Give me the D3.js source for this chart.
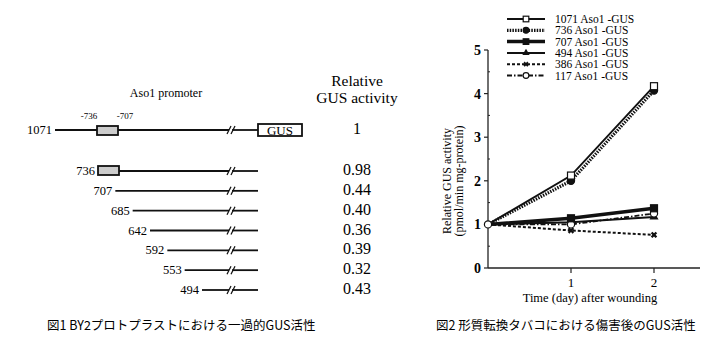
<!DOCTYPE html>
<html><head><meta charset="utf-8">
<script src="https://cdn.jsdelivr.net/npm/d3@7"></script>
<style>body{margin:0;background:#fff}svg{display:block}</style>
</head><body>
<script>
// ---- Figure 1 data ----
const constructs = ["1071","736","707","685","642","592","553","494"];
const relActivity = ["1","0.98","0.44","0.40","0.36","0.39","0.32","0.43"];
// ---- Figure 2 data ----
const days = [0, 1, 2];
const seriesNames = ["1071 Aso1 -GUS","736 Aso1 -GUS","707 Aso1 -GUS","494 Aso1 -GUS","386 Aso1 -GUS","117 Aso1 -GUS"];
const s1071 = [1, 2.12, 4.17];
const s736  = [1, 2.0, 4.07];
const s707  = [1, 1.14, 1.37];
const s494  = [1, 1.05, 1.17];
const s386  = [1, 0.86, 0.76];
const s117  = [1, 1.0, 1.25];
const yTicks = [0,1,2,3,4,5];
const xTicks = [1,2];
const caption1 = "図1 BY2プロトプラストにおける一過的GUS活性";
const caption2 = "図2 形質転換タバコにおける傷害後のGUS活性";

const W=718,H=351;
const svg=d3.select("body").append("svg").attr("width",W).attr("height",H);
const serif="'Liberation Serif','DejaVu Serif',serif";
const cjk="'Noto Sans CJK JP',sans-serif";

// ===== Figure 1 =====
const g1=svg.append("g");
g1.append("text").attr("x",166).attr("y",97).attr("text-anchor","middle")
  .attr("font-family",serif).attr("font-size",12).text("Aso1 promoter");
g1.append("text").attr("x",357).attr("y",86).attr("text-anchor","middle")
  .attr("font-family",serif).attr("font-size",15.5).text("Relative");
g1.append("text").attr("x",357).attr("y",103).attr("text-anchor","middle")
  .attr("font-family",serif).attr("font-size",15.5).text("GUS activity");

const rowY=d3.scaleLinear().domain([1,7]).range([171,290]);
const startX=d3.scaleLinear().domain([1,7]).range([98,202]);
const fullY=130, fullX=55, breakX=229, endX=258;

constructs.forEach((c,i)=>{
  const y = i===0? fullY : rowY(i);
  const x0 = i===0? fullX : startX(i);
  let lineStart = x0;
  if(i===1){
    g1.append("rect").attr("x",x0).attr("y",y-5).attr("width",21).attr("height",9)
      .attr("fill","#ccc").attr("stroke","#111").attr("stroke-width",1.8);
    lineStart = x0+21;
  }
  g1.append("line").attr("x1",lineStart).attr("y1",y).attr("x2",breakX).attr("y2",y)
    .attr("stroke","#111").attr("stroke-width",1.8);
  g1.append("line").attr("x1",breakX+3).attr("y1",y).attr("x2",endX).attr("y2",y)
    .attr("stroke","#111").attr("stroke-width",1.8);
  [0,4].forEach(dx=>g1.append("line").attr("x1",breakX-2+dx).attr("y1",y+4)
    .attr("x2",breakX+2+dx).attr("y2",y-4).attr("stroke","#111").attr("stroke-width",1.3));
  g1.append("text").attr("x",x0-3).attr("y",y+4).attr("text-anchor","end")
    .attr("font-family",serif).attr("font-size",12.5).text(c);
  g1.append("text").attr("x",357).attr("y",y+4).attr("text-anchor","middle")
    .attr("font-family",serif).attr("font-size",16).text(relActivity[i]);
});
g1.append("rect").attr("x",97).attr("y",fullY-4).attr("width",21).attr("height",9)
  .attr("fill","#ccc").attr("stroke","#111").attr("stroke-width",1.8);
g1.append("rect").attr("x",endX).attr("y",fullY-6).attr("width",44).attr("height",12)
  .attr("fill","#fff").attr("stroke","#111").attr("stroke-width",1.8);
g1.append("text").attr("x",280).attr("y",fullY+4.5).attr("text-anchor","middle")
  .attr("font-family",serif).attr("font-size",13).text("GUS");
g1.append("text").attr("x",89).attr("y",119).attr("text-anchor","middle")
  .attr("font-family",serif).attr("font-size",9).text("-736");
g1.append("text").attr("x",125).attr("y",119).attr("text-anchor","middle")
  .attr("font-family",serif).attr("font-size",9).text("-707");

// ===== Figure 2 =====
const x=d3.scaleLinear().domain([0,2]).range([488,654]);
const y=d3.scaleLinear().domain([0,5]).range([268,50]);
const g2=svg.append("g");
g2.append("line").attr("x1",488).attr("y1",y(0)).attr("x2",700).attr("y2",y(0)).attr("stroke","#222").attr("stroke-width",1.3);
g2.append("line").attr("x1",488).attr("y1",y(0)).attr("x2",488).attr("y2",y(5)).attr("stroke","#222").attr("stroke-width",1.3);
yTicks.forEach(t=>{
  g2.append("line").attr("x1",484).attr("x2",488).attr("y1",y(t)).attr("y2",y(t)).attr("stroke","#222").attr("stroke-width",1.2);
  g2.append("text").attr("x",481).attr("y",y(t)+5).attr("text-anchor","end")
    .attr("font-family",serif).attr("font-weight","bold").attr("font-size",14).text(t);
  if(t<5) g2.append("line").attr("x1",488).attr("x2",490).attr("y1",y(t+0.5)).attr("y2",y(t+0.5)).attr("stroke","#222");
});
xTicks.forEach(t=>{
  g2.append("line").attr("x1",x(t)).attr("x2",x(t)).attr("y1",y(0)).attr("y2",y(0)+5).attr("stroke","#222").attr("stroke-width",1.2);
  g2.append("text").attr("x",x(t)).attr("y",y(0)+19).attr("text-anchor","middle")
    .attr("font-family",serif).attr("font-size",13).text(t);
});
g2.append("text").attr("x",590).attr("y",302).attr("text-anchor","middle")
  .attr("font-family",serif).attr("font-size",12.5).text("Time (day)  after wounding");
g2.append("text").attr("transform","translate(451,181) rotate(-90)").attr("text-anchor","middle")
  .attr("font-family",serif).attr("font-size",12).text("Relative GUS activity");
g2.append("text").attr("transform","translate(463,181) rotate(-90)").attr("text-anchor","middle")
  .attr("font-family",serif).attr("font-size",12).text("(pmol/min mg-protein)");

const styles=[
  {data:s1071,w:2,dash:null,mk:"sq",fill:"#fff"},
  {data:s736,w:3.2,dash:"1.5,1.2",mk:"circle",fill:"#111"},
  {data:s707,w:3.5,dash:null,mk:"sq",fill:"#111"},
  {data:s494,w:2,dash:null,mk:"tri",fill:"#111"},
  {data:s386,w:2,dash:"3,2",mk:"x",fill:"#111"},
  {data:s117,w:1.8,dash:"5,2,1.5,2",mk:"circle",fill:"#fff"}
];
const line=d3.line().x((d,i)=>x(days[i])).y(d=>y(d));
function marker(g,cx,cy,s,k){
  k=k||1;
  if(s.mk==="sq") g.append("rect").attr("x",cx-3.5*k).attr("y",cy-3.5*k).attr("width",7*k).attr("height",7*k)
      .attr("fill",s.fill).attr("stroke","#111").attr("stroke-width",1.2);
  else if(s.mk==="circle") g.append("circle").attr("cx",cx).attr("cy",cy).attr("r",3.6*k)
      .attr("fill",s.fill).attr("stroke","#111").attr("stroke-width",1.2);
  else if(s.mk==="tri") g.append("path").attr("d",d3.symbol(d3.symbolTriangle,36*k*k)()).attr("transform",`translate(${cx},${cy})`).attr("fill","#111");
  else g.append("path").attr("d",d3.symbol(d3.symbolCross,26*k*k)()).attr("transform",`translate(${cx},${cy}) rotate(45)`).attr("fill","#111");
}
[4,3,5,2,1,0].forEach(k=>{
  const s=styles[k];
  g2.append("path").attr("d",line(s.data)).attr("fill","none").attr("stroke","#111")
    .attr("stroke-width",s.w).attr("stroke-dasharray",s.dash);
});
[4,3,5,2,1,0].forEach(k=>{
  const s=styles[k];
  s.data.forEach((v,i)=>{ if(i>0) marker(g2,x(days[i]),y(v),s); });
});
marker(g2,x(0),y(1),styles[5]);
const leg=g2.append("g");
seriesNames.forEach((n,i)=>{
  const ly=19+i*11.3, s=styles[i];
  leg.append("line").attr("x1",507).attr("x2",545).attr("y1",ly).attr("y2",ly).attr("stroke","#111")
    .attr("stroke-width",s.w).attr("stroke-dasharray",s.dash);
  marker(leg,526,ly,s,0.8);
  leg.append("text").attr("x",555).attr("y",ly+4).attr("font-family",serif).attr("font-size",11.5).text(n);
});

svg.append("text").attr("x",47).attr("y",330).attr("font-family",cjk).attr("font-size",12.5).text(caption1);
svg.append("text").attr("x",436).attr("y",330).attr("font-family",cjk).attr("font-size",12.5).text(caption2);
</script>
</body></html>
